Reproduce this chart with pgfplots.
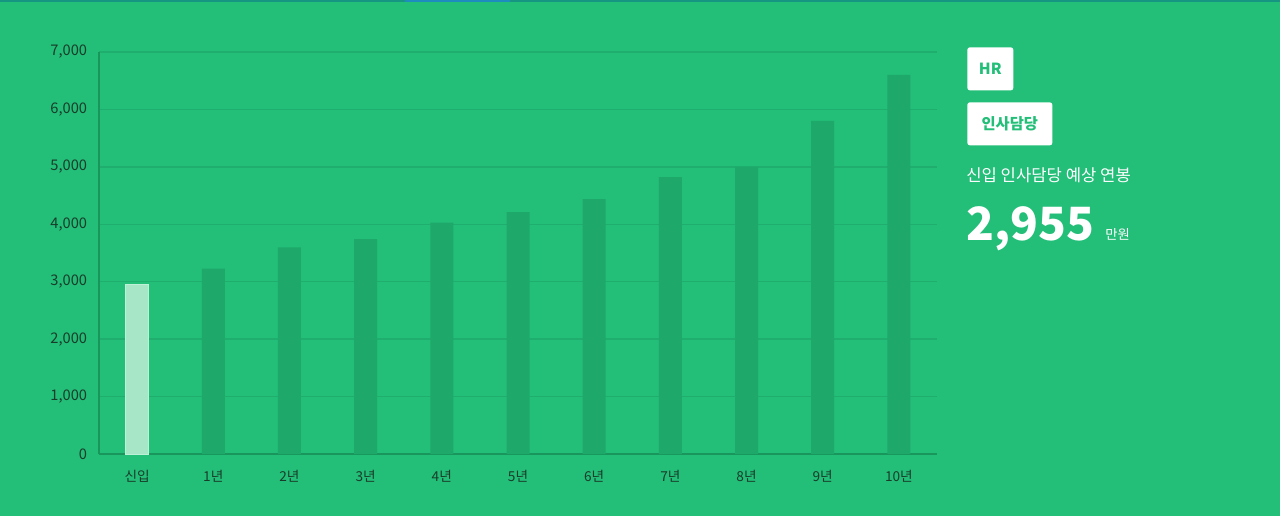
\documentclass[border=0pt]{standalone}
\usepackage{fontspec}
\setmainfont{Noto Sans CJK KR}
\usepackage{pgfplots}
\pgfplotsset{compat=1.18}

\definecolor{bg}{RGB}{35,190,120}
\definecolor{barc}{RGB}{30,168,106}
\definecolor{hl}{RGB}{168,230,200}
\definecolor{hlb}{RGB}{190,240,215}
\definecolor{gridc}{RGB}{31,174,110}
\definecolor{axc}{RGB}{24,150,92}
\definecolor{tickc}{RGB}{25,60,42}
\definecolor{topline}{RGB}{22,150,130}
\definecolor{topblue}{RGB}{30,140,190}

\def\s{0.6pt}

% salary by years of experience (만원)
\pgfplotstableread{
x y
1 3230
2 3600
3 3740
4 4030
5 4210
6 4440
7 4820
8 5000
9 5800
10 6600
}\others

\begin{document}
\begin{tikzpicture}
% background, 1280 x 516 px
\fill[bg] (0,0) rectangle ({1280*\s},{-516*\s});
\fill[topline] (0,0) rectangle ({1280*\s},{-2*\s});
\fill[topblue] ({405*\s},0) rectangle ({510*\s},{-2*\s});

\begin{axis}[
    at={({99*\s},{-454*\s})}, anchor=south west,
    scale only axis,
    width={838*\s}, height={402*\s},
    xmin=-0.5, xmax=10.5,
    ymin=0, ymax=7000,
    axis x line=bottom, axis y line=left,
    axis line style={axc, line width=0.8pt, -},
    ymajorgrids, grid style={gridc, line width=0.8pt},
    major tick length=0pt,
    xtick={0,...,10},
    xticklabels={신입,1년,2년,3년,4년,5년,6년,7년,8년,9년,10년},
    ytick={0,1000,...,7000},
    /pgf/number format/1000 sep={,},
    /pgf/number format/assume math mode=true,
    scaled y ticks=false,
    tick label style={font=\fontsize{8.2pt}{9pt}\selectfont, text=tickc},
    yticklabel style={font=\fontsize{8.8pt}{9pt}\selectfont, xshift={-6*\s}},
    xticklabel style={yshift={-10*\s}},
]
\addplot[ybar, bar shift=0pt, bar width={23*\s}, fill=barc, draw=none] table[x=x, y=y] {\others};
\addplot[ybar, bar shift=0pt, bar width={23*\s}, fill=hl, draw=hlb, line width=0.6pt] coordinates {(0,2955)};
\end{axis}

% right panel
\node[fill=white, rounded corners=1.5pt, anchor=north west, minimum height={43*\s}, minimum width={46*\s}, inner sep=0pt,
      text=bg, font=\bfseries\fontsize{9.2pt}{10pt}\selectfont] at ({967*\s},{-47*\s}) {HR};
\node[fill=white, rounded corners=1.5pt, anchor=north west, minimum height={43*\s}, minimum width={85*\s}, inner sep=0pt,
      text=bg, font=\bfseries\fontsize{9.2pt}{10pt}\selectfont] at ({967*\s},{-102*\s}) {인사담당};
\node[anchor=west, inner sep=0pt, text=white, font=\fontsize{10pt}{11pt}\selectfont] at ({966*\s},{-175*\s}) {신입 인사담당 예상 연봉};
\node[anchor=base west, inner sep=0pt, text=white, font=\bfseries\fontsize{27.5pt}{30pt}\selectfont] at ({966*\s},{-240*\s}) {2,955};
\node[anchor=base west, inner sep=0pt, text=white, font=\fontsize{8pt}{9pt}\selectfont] at ({1105*\s},{-239*\s}) {만원};
\end{tikzpicture}
\end{document}
